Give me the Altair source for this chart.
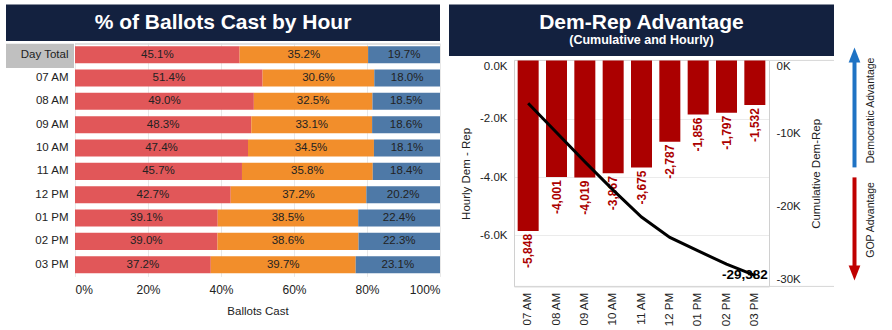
import altair as alt
import pandas as pd

# ---------------- data ----------------
rows = ["Day Total", "07 AM", "08 AM", "09 AM", "10 AM", "11 AM", "12 PM", "01 PM", "02 PM", "03 PM"]
rep_pct = [45.1, 51.4, 49.0, 48.3, 47.4, 45.7, 42.7, 39.1, 39.0, 37.2]
una_pct = [35.2, 30.6, 32.5, 33.1, 34.5, 35.8, 37.2, 38.5, 38.6, 39.7]
dem_pct = [19.7, 18.0, 18.5, 18.6, 18.1, 18.4, 20.2, 22.4, 22.3, 23.1]
groups = ["REP", "UNA", "DEM"]
group_colors = ["#E15759", "#F28E2B", "#4E79A7"]

hours = ["07 AM", "08 AM", "09 AM", "10 AM", "11 AM", "12 PM", "01 PM", "02 PM", "03 PM"]
hourly_net = [-5848, -4001, -4019, -3867, -3675, -2787, -1856, -1797, -1532]

pct_ticks = [0, 0.2, 0.4, 0.6, 0.8, 1.0]
hourly_ticks = [0, -2000, -4000, -6000]
cum_ticks = [0, -10000, -20000, -30000]

FONT = "Liberation Sans"
NAVY = "#13213F"
TXT = "#222222"
BARRED = "#AB0000"

# ---------------- left panel ----------------
recs = []
for i, r in enumerate(rows):
    for j, (g, vals) in enumerate(zip(groups, [rep_pct, una_pct, dem_pct])):
        recs.append({"row": r, "group": g, "order": j, "pct": vals[i],
                     "label": f"{vals[i]:.1f}%"})
left_df = pd.DataFrame(recs)

LW, LH = 365, 233.4

base_l = alt.Chart(left_df).transform_stack(
    stack="pct", groupby=["row"], as_=["x0", "x1"], offset="normalize",
    sort=[alt.SortField("order", "ascending")]
).transform_calculate(mid="(datum.x0 + datum.x1) / 2")

ysc = alt.Y("row:N", sort=rows,
            scale=alt.Scale(paddingInner=0.27, paddingOuter=0.135),
            axis=alt.Axis(title=None, ticks=False, domain=False, labelPadding=7,
                          labelFontSize=11.5, labelColor=TXT, zindex=1, labelFont=FONT))

bars_l = base_l.mark_rect().encode(
    x=alt.X("x0:Q", scale=alt.Scale(domain=[0, 1], nice=False),
            axis=alt.Axis(format="%", values=pct_ticks, grid=True, gridColor="#e8e8e8",
                          ticks=False, domain=False, labelPadding=8, labelFontSize=12,
                          labelColor=TXT, title="Ballots Cast", titleFontSize=11.5,
                          titleFontWeight="normal", titleColor=TXT, titlePadding=10)),
    x2="x1:Q",
    y=ysc,
    color=alt.Color("group:N", scale=alt.Scale(domain=groups, range=group_colors), legend=None),
)

text_l = base_l.mark_text(fontSize=11.5, color=TXT, font=FONT).encode(
    x="mid:Q", y=alt.Y("row:N", sort=rows), text="label:N"
)

one = pd.DataFrame({"k": [0]})
daybox = alt.Chart(one).mark_rect(color="#C0C0C0").encode(
    x=alt.value(-69), x2=alt.value(-1), y=alt.value(0.7), y2=alt.value(25.1))
topline_l = alt.Chart(one).mark_rule(color="#d6d6d6", strokeWidth=1.5).encode(
    x=alt.value(0), x2=alt.value(LW), y=alt.value(1), y2=alt.value(1))
banner_l = alt.Chart(one).mark_rect(color=NAVY).encode(
    x=alt.value(-69), x2=alt.value(365), y=alt.value(-38.6), y2=alt.value(-1.9))
title_l = alt.Chart(pd.DataFrame({"t": ["% of Ballots Cast by Hour"]})).mark_text(
    font=FONT, fontSize=21, fontWeight="bold", color="white", align="center",
    baseline="alphabetic").encode(x=alt.value(148), y=alt.value(-14.3), text="t:N")

left = alt.layer(banner_l, title_l, daybox, topline_l, bars_l, text_l).properties(
    width=LW, height=LH)

# ---------------- right panel ----------------
right_df = pd.DataFrame({"hour": hours, "idx": list(range(len(hours))), "hourly": hourly_net,
                         "hlabel": [f"{v:,}" for v in hourly_net]})
RW, RH = 255, 243.4
top_off = 17.4

base_r = alt.Chart(right_df)
xr = alt.X("hour:N", sort=hours, scale=alt.Scale(paddingInner=0.26, paddingOuter=0.13),
           axis=alt.Axis(title=None, labelAngle=270, ticks=False, domainColor="#d0d0d0",
                         labelPadding=6, labelFontSize=11.5, labelColor=TXT))
yh_scale = alt.Scale(domain=[-7750, 0], nice=False, range=[RH, top_off])
yc_scale = alt.Scale(domain=[-30900, 0], nice=False, range=[RH, top_off])

bars_r = base_r.mark_bar(color=BARRED, size=21).encode(
    x=xr,
    y=alt.Y("hourly:Q", scale=yh_scale,
            axis=alt.Axis(values=hourly_ticks,
                          labelExpr="replace(format(datum.value / 1000, '.1f'), '\u2212', '-') + 'K'",
                          title="Hourly Dem - Rep", titleFontSize=11.5, titleFontWeight="normal",
                          titleColor=TXT, titlePadding=8, grid=True, gridColor="#ebebeb",
                          ticks=False, domainColor="#d0d0d0", labelFlush=True,
                          labelPadding=7, labelFontSize=11.5, labelColor=TXT)),
)
labels_r = base_r.mark_text(angle=270, align="right", baseline="middle", dx=-3,
                            fontWeight="bold", fontSize=12, color=BARRED, font=FONT).encode(
    x=alt.X("hour:N", sort=hours), y=alt.Y("hourly:Q", scale=yh_scale), text="hlabel:N")

hour_layer = alt.layer(bars_r, labels_r)

cum_base = base_r.transform_window(cum="sum(hourly)", sort=[alt.SortField("idx")])
line_r = cum_base.mark_line(color="black", strokeWidth=3).encode(
    x=alt.X("hour:N", sort=hours),
    y=alt.Y("cum:Q", scale=yc_scale,
            axis=alt.Axis(orient="right", values=cum_ticks,
                          labelExpr="replace(format(datum.value / 1000, 'd'), '\u2212', '-') + 'K'",
                          title="Cumulative Dem-Rep", titleAngle=270, titleBaseline="top",
                          titleFontSize=11.5, titleFontWeight="normal", titleColor=TXT,
                          titlePadding=10, grid=False, ticks=False, domainColor="#d0d0d0",
                          labelFlush=True, labelPadding=7, labelFontSize=11.5, labelColor=TXT)),
)
last_r = cum_base.transform_filter(f"datum.idx == {len(hours) - 1}").transform_calculate(
    clabel="replace(format(datum.cum, ','), '\u2212', '-')"
).mark_text(dx=-10, fontWeight="bold", fontSize=13.5, color="black", font=FONT).encode(
    x=alt.X("hour:N", sort=hours), y=alt.Y("cum:Q", scale=yc_scale), text="clabel:N")
cum_layer = alt.layer(line_r, last_r)

banner_r = alt.Chart(one).mark_rect(color=NAVY).encode(
    x=alt.value(-65), x2=alt.value(320), y=alt.value(-38.6), y2=alt.value(13.1))
title_r = alt.Chart(pd.DataFrame({"t": ["Dem-Rep Advantage"]})).mark_text(
    font=FONT, fontSize=21, fontWeight="bold", color="white", baseline="alphabetic").encode(
    x=alt.value(127.5), y=alt.value(-14.3), text="t:N")
sub_r = alt.Chart(pd.DataFrame({"t": ["(Cumulative and Hourly)"]})).mark_text(
    font=FONT, fontSize=12.5, fontWeight="bold", color="white", baseline="alphabetic").encode(
    x=alt.value(127.5), y=alt.value(1.4), text="t:N")
lines_r = alt.Chart(one).mark_rule(color="#d6d6d6").encode(
    x=alt.value(0), x2=alt.value(320), y=alt.value(top_off), y2=alt.value(top_off))
botline_r = alt.Chart(one).mark_rule(color="#d6d6d6").encode(
    x=alt.value(0), x2=alt.value(320), y=alt.value(RH), y2=alt.value(RH))

# direction arrows
blue_shaft = alt.Chart(one).mark_rule(color="#1F73C4", strokeWidth=4).encode(
    x=alt.value(340.5), y=alt.value(18), y2=alt.value(124.4))
blue_head = alt.Chart(one).mark_point(shape="M0,-1L0.78,1L-0.78,1Z", filled=True, opacity=1,
                                      color="#1F73C4", size=225).encode(
    x=alt.value(340.5), y=alt.value(11.9))
red_shaft = alt.Chart(one).mark_rule(color="#C00000", strokeWidth=4).encode(
    x=alt.value(340.5), y=alt.value(134.4), y2=alt.value(224))
red_head = alt.Chart(one).mark_point(shape="M0,1L0.78,-1L-0.78,-1Z", filled=True, opacity=1,
                                     color="#C00000", size=225).encode(
    x=alt.value(340.5), y=alt.value(229.9))
dem_txt = alt.Chart(pd.DataFrame({"t": ["Democratic Advantage"]})).mark_text(
    angle=270, fontSize=10.5, color=TXT, font=FONT, baseline="middle").encode(
    x=alt.value(357), y=alt.value(67.4), text="t:N")
gop_txt = alt.Chart(pd.DataFrame({"t": ["GOP Advantage"]})).mark_text(
    angle=270, fontSize=10.5, color=TXT, font=FONT, baseline="middle").encode(
    x=alt.value(357), y=alt.value(176.9), text="t:N")

right = alt.layer(
    banner_r, title_r, sub_r, lines_r, botline_r,
    hour_layer, cum_layer,
    blue_shaft, blue_head, red_shaft, red_head, dem_txt, gop_txt
).resolve_scale(y="independent").properties(width=RW, height=RH)

chart = alt.hconcat(left, right, spacing=8).properties(
    padding={"left": 6, "top": 4, "right": 0, "bottom": 0},
    background="white",
).configure(font=FONT).configure_view(stroke=None)

chart.save("out.html", embed_options={"renderer": "svg", "actions": False})
